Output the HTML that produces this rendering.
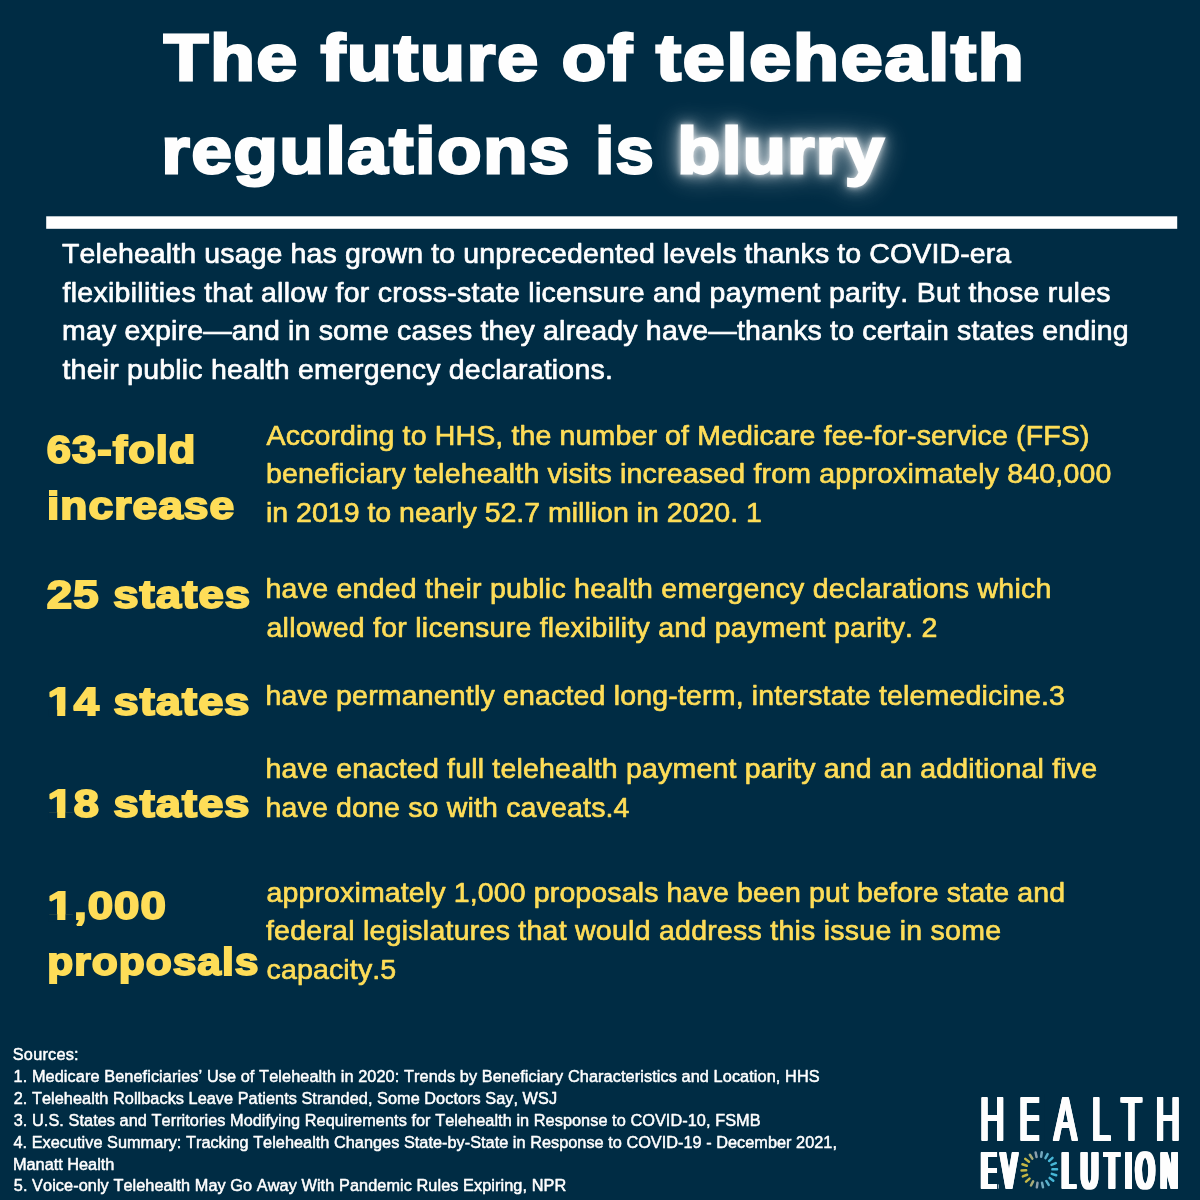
<!DOCTYPE html>
<html lang="en">
<head>
<meta charset="utf-8">
<title>The future of telehealth regulations is blurry</title>
<style>
html,body{margin:0;padding:0;background:#002c44;}
body{width:1200px;height:1200px;overflow:hidden;}
svg{display:block;}
svg text{font-family:"Liberation Sans",sans-serif;white-space:pre;font-variant-ligatures:none;font-kerning:none;}
</style>
</head>
<body>
<svg width="1200" height="1200" viewBox="0 0 1200 1200">
<defs>
<filter id="glow" x="-35%" y="-120%" width="170%" height="340%">
<feGaussianBlur in="SourceGraphic" stdDeviation="15" result="b0"/>
<feComponentTransfer in="b0" result="b0a"><feFuncA type="linear" slope="0.55"/></feComponentTransfer>
<feGaussianBlur in="SourceGraphic" stdDeviation="7" result="b1"/>
<feComponentTransfer in="b1" result="b1a"><feFuncA type="linear" slope="0.7"/></feComponentTransfer>
<feGaussianBlur in="SourceGraphic" stdDeviation="2.6" result="b2"/>
<feComponentTransfer in="b2" result="b2a"><feFuncA type="linear" slope="0.6"/></feComponentTransfer>
<feMerge><feMergeNode in="b0a"/><feMergeNode in="b1a"/><feMergeNode in="b2a"/><feMergeNode in="SourceGraphic"/></feMerge>
</filter>
</defs>
<rect width="1200" height="1200" fill="#002c44"/>
<rect id="rule" x="46.2" y="216.3" width="1131" height="12.5" fill="#ffffff"/>
<g opacity="0.999">
<text id="t1" x="163.84" y="79.80" font-size="64.90" font-weight="700" fill="#ffffff" textLength="135.04" lengthAdjust="spacingAndGlyphs" stroke="#ffffff" stroke-width="2.8" stroke-linejoin="miter" stroke-miterlimit="2" letter-spacing="1.6">The</text>
<text id="t2" x="320.84" y="79.80" font-size="64.90" font-weight="700" fill="#ffffff" textLength="218.97" lengthAdjust="spacingAndGlyphs" stroke="#ffffff" stroke-width="2.8" stroke-linejoin="miter" stroke-miterlimit="2" letter-spacing="1.6">future</text>
<text id="t3" x="561.66" y="79.80" font-size="64.90" font-weight="700" fill="#ffffff" textLength="72.18" lengthAdjust="spacingAndGlyphs" stroke="#ffffff" stroke-width="2.8" stroke-linejoin="miter" stroke-miterlimit="2" letter-spacing="1.6">of</text>
<text id="t4" x="655.90" y="79.80" font-size="64.90" font-weight="700" fill="#ffffff" textLength="369.72" lengthAdjust="spacingAndGlyphs" stroke="#ffffff" stroke-width="2.8" stroke-linejoin="miter" stroke-miterlimit="2" letter-spacing="1.6">telehealth</text>
<text id="t5" x="161.48" y="172.80" font-size="64.90" font-weight="700" fill="#ffffff" textLength="409.69" lengthAdjust="spacingAndGlyphs" stroke="#ffffff" stroke-width="2.8" stroke-linejoin="miter" stroke-miterlimit="2" letter-spacing="1.6">regulations</text>
<text id="t6" x="595.22" y="172.80" font-size="64.90" font-weight="700" fill="#ffffff" textLength="60.11" lengthAdjust="spacingAndGlyphs" stroke="#ffffff" stroke-width="2.8" stroke-linejoin="miter" stroke-miterlimit="2" letter-spacing="1.6">is</text>
<text id="t7" x="677.61" y="172.80" font-size="64.90" font-weight="700" fill="#ffffff" textLength="207.84" lengthAdjust="spacingAndGlyphs" stroke="#ffffff" stroke-width="2.8" stroke-linejoin="miter" stroke-miterlimit="2" letter-spacing="1.6" filter="url(#glow)">blurry</text>
<text id="p1" x="62.00" y="262.90" font-size="28.50" font-weight="400" fill="#ffffff" textLength="949.22" lengthAdjust="spacing" stroke="#ffffff" stroke-width="0.7" stroke-linejoin="round">Telehealth usage has grown to unprecedented levels thanks to COVID-era</text>
<text id="p2" x="62.50" y="301.65" font-size="28.50" font-weight="400" fill="#ffffff" textLength="1048.11" lengthAdjust="spacing" stroke="#ffffff" stroke-width="0.7" stroke-linejoin="round">flexibilities that allow for cross-state licensure and payment parity. But those rules</text>
<text id="p3" x="62.10" y="340.40" font-size="28.50" font-weight="400" fill="#ffffff" textLength="1066.60" lengthAdjust="spacing" stroke="#ffffff" stroke-width="0.7" stroke-linejoin="round">may expire—and in some cases they already have—thanks to certain states ending</text>
<text id="p4" x="62.50" y="379.15" font-size="28.50" font-weight="400" fill="#ffffff" textLength="550.34" lengthAdjust="spacing" stroke="#ffffff" stroke-width="0.7" stroke-linejoin="round">their public health emergency declarations.</text>
<text id="b1a" x="266.50" y="444.55" font-size="28.50" font-weight="400" fill="#ffde59" textLength="822.94" lengthAdjust="spacing" stroke="#ffde59" stroke-width="0.7" stroke-linejoin="round">According to HHS, the number of Medicare fee-for-service (FFS)</text>
<text id="b1b" x="266.00" y="483.30" font-size="28.50" font-weight="400" fill="#ffde59" textLength="845.33" lengthAdjust="spacing" stroke="#ffde59" stroke-width="0.7" stroke-linejoin="round">beneficiary telehealth visits increased from approximately 840,000</text>
<text id="b1c" x="266.00" y="522.05" font-size="28.50" font-weight="400" fill="#ffde59" textLength="495.91" lengthAdjust="spacing" stroke="#ffde59" stroke-width="0.7" stroke-linejoin="round">in 2019 to nearly 52.7 million in 2020. 1</text>
<text id="b2a" x="265.50" y="597.80" font-size="28.50" font-weight="400" fill="#ffde59" textLength="785.88" lengthAdjust="spacing" stroke="#ffde59" stroke-width="0.7" stroke-linejoin="round">have ended their public health emergency declarations which</text>
<text id="b2b" x="266.50" y="636.55" font-size="28.50" font-weight="400" fill="#ffde59" textLength="670.80" lengthAdjust="spacing" stroke="#ffde59" stroke-width="0.7" stroke-linejoin="round">allowed for licensure flexibility and payment parity. 2</text>
<text id="b3a" x="265.50" y="705.30" font-size="28.50" font-weight="400" fill="#ffde59" textLength="799.47" lengthAdjust="spacing" stroke="#ffde59" stroke-width="0.7" stroke-linejoin="round">have permanently enacted long-term, interstate telemedicine.3</text>
<text id="b4a" x="265.50" y="777.80" font-size="28.50" font-weight="400" fill="#ffde59" textLength="831.63" lengthAdjust="spacing" stroke="#ffde59" stroke-width="0.7" stroke-linejoin="round">have enacted full telehealth payment parity and an additional five</text>
<text id="b4b" x="265.50" y="816.55" font-size="28.50" font-weight="400" fill="#ffde59" textLength="363.98" lengthAdjust="spacing" stroke="#ffde59" stroke-width="0.7" stroke-linejoin="round">have done so with caveats.4</text>
<text id="b5a" x="266.50" y="901.55" font-size="28.50" font-weight="400" fill="#ffde59" textLength="798.57" lengthAdjust="spacing" stroke="#ffde59" stroke-width="0.7" stroke-linejoin="round">approximately 1,000 proposals have been put before state and</text>
<text id="b5b" x="265.90" y="940.30" font-size="28.50" font-weight="400" fill="#ffde59" textLength="735.10" lengthAdjust="spacing" stroke="#ffde59" stroke-width="0.7" stroke-linejoin="round">federal legislatures that would address this issue in some</text>
<text id="b5c" x="266.50" y="979.05" font-size="28.50" font-weight="400" fill="#ffde59" textLength="129.73" lengthAdjust="spacing" stroke="#ffde59" stroke-width="0.7" stroke-linejoin="round">capacity.5</text>
<text id="h1a" x="46.81" y="462.95" font-size="38.60" font-weight="700" fill="#ffde59" textLength="149.61" lengthAdjust="spacingAndGlyphs" stroke="#ffde59" stroke-width="1.9" stroke-linejoin="miter" stroke-miterlimit="2" letter-spacing="0.9">63-fold</text>
<text id="h1b" x="47.01" y="519.20" font-size="38.60" font-weight="700" fill="#ffde59" textLength="188.25" lengthAdjust="spacingAndGlyphs" stroke="#ffde59" stroke-width="1.9" stroke-linejoin="miter" stroke-miterlimit="2" letter-spacing="0.9">increase</text>
<text id="h2" x="46.83" y="607.95" font-size="38.60" font-weight="700" fill="#ffde59" textLength="204.32" lengthAdjust="spacingAndGlyphs" stroke="#ffde59" stroke-width="1.9" stroke-linejoin="miter" stroke-miterlimit="2" letter-spacing="0.9">25 states</text>
<text id="h3" x="47.57" y="714.95" font-size="38.60" font-weight="700" fill="#ffde59" textLength="202.98" lengthAdjust="spacingAndGlyphs" stroke="#ffde59" stroke-width="1.9" stroke-linejoin="miter" stroke-miterlimit="2" letter-spacing="0.9">14 states</text>
<text id="h4" x="47.57" y="817.20" font-size="38.60" font-weight="700" fill="#ffde59" textLength="202.98" lengthAdjust="spacingAndGlyphs" stroke="#ffde59" stroke-width="1.9" stroke-linejoin="miter" stroke-miterlimit="2" letter-spacing="0.9">18 states</text>
<text id="h5a" x="47.54" y="919.20" font-size="38.60" font-weight="700" fill="#ffde59" textLength="119.46" lengthAdjust="spacingAndGlyphs" stroke="#ffde59" stroke-width="1.9" stroke-linejoin="miter" stroke-miterlimit="2" letter-spacing="0.9">1,000</text>
<text id="h5b" x="47.27" y="975.45" font-size="38.60" font-weight="700" fill="#ffde59" textLength="212.17" lengthAdjust="spacingAndGlyphs" stroke="#ffde59" stroke-width="1.9" stroke-linejoin="miter" stroke-miterlimit="2" letter-spacing="0.9">proposals</text>
<text id="s0" x="12.75" y="1060.20" font-size="16.30" font-weight="400" fill="#ffffff" textLength="65.88" lengthAdjust="spacing" stroke="#ffffff" stroke-width="0.5" stroke-linejoin="round">Sources:</text>
<text id="s1" x="13.50" y="1082.20" font-size="16.30" font-weight="400" fill="#ffffff" textLength="806.18" lengthAdjust="spacing" stroke="#ffffff" stroke-width="0.5" stroke-linejoin="round">1. Medicare Beneficiaries’ Use of Telehealth in 2020: Trends by Beneficiary Characteristics and Location, HHS</text>
<text id="s2" x="13.75" y="1104.20" font-size="16.30" font-weight="400" fill="#ffffff" textLength="543.31" lengthAdjust="spacing" stroke="#ffffff" stroke-width="0.5" stroke-linejoin="round">2. Telehealth Rollbacks Leave Patients Stranded, Some Doctors Say, WSJ</text>
<text id="s3" x="13.75" y="1125.95" font-size="16.30" font-weight="400" fill="#ffffff" textLength="746.80" lengthAdjust="spacing" stroke="#ffffff" stroke-width="0.5" stroke-linejoin="round">3. U.S. States and Territories Modifying Requirements for Telehealth in Response to COVID-10, FSMB</text>
<text id="s4" x="13.50" y="1147.70" font-size="16.30" font-weight="400" fill="#ffffff" textLength="823.44" lengthAdjust="spacing" stroke="#ffffff" stroke-width="0.5" stroke-linejoin="round">4. Executive Summary: Tracking Telehealth Changes State-by-State in Response to COVID-19 - December 2021,</text>
<text id="s5" x="13.00" y="1169.70" font-size="16.30" font-weight="400" fill="#ffffff" textLength="101.34" lengthAdjust="spacing" stroke="#ffffff" stroke-width="0.5" stroke-linejoin="round">Manatt Health</text>
<text id="s6" x="13.75" y="1191.45" font-size="16.30" font-weight="400" fill="#ffffff" textLength="552.48" lengthAdjust="spacing" stroke="#ffffff" stroke-width="0.5" stroke-linejoin="round">5. Voice-only Telehealth May Go Away With Pandemic Rules Expiring, NPR</text>
<g id="lg1" transform="scale(0.5300,1)"><text x="1849.75 1923.32 1988.96 2060.16 2115.47 2180.70" y="1140.20" font-size="63.08" font-weight="400" fill="#ffffff">HEALTH</text></g><use href="#lg1" x="-1.50" y="-0.40"/><use href="#lg1" x="-1.50" y="0.40"/><use href="#lg1" x="0.00" y="-0.40"/><use href="#lg1" x="0.00" y="0.40"/><use href="#lg1" x="1.50" y="-0.40"/><use href="#lg1" x="1.50" y="0.40"/>
<g id="lg2" transform="scale(0.4400,1)"><text x="2230.85 2275.94" y="1188.45" font-size="52.03" font-weight="400" fill="#ffffff">EV</text></g><use href="#lg2" x="-2.45" y="-0.45"/><use href="#lg2" x="-2.45" y="0.45"/><use href="#lg2" x="-1.23" y="-0.45"/><use href="#lg2" x="-1.23" y="0.45"/><use href="#lg2" x="0.00" y="-0.45"/><use href="#lg2" x="0.00" y="0.45"/><use href="#lg2" x="1.23" y="-0.45"/><use href="#lg2" x="1.23" y="0.45"/><use href="#lg2" x="2.45" y="-0.45"/><use href="#lg2" x="2.45" y="0.45"/>
<g id="lg3" transform="scale(0.4400,1)"><text x="2414.26 2457.57 2511.05 2557.66 2582.28 2638.47" y="1188.45" font-size="52.03" font-weight="400" fill="#ffffff">LUTION</text></g><use href="#lg3" x="-2.45" y="-0.45"/><use href="#lg3" x="-2.45" y="0.45"/><use href="#lg3" x="-1.23" y="-0.45"/><use href="#lg3" x="-1.23" y="0.45"/><use href="#lg3" x="0.00" y="-0.45"/><use href="#lg3" x="0.00" y="0.45"/><use href="#lg3" x="1.23" y="-0.45"/><use href="#lg3" x="1.23" y="0.45"/><use href="#lg3" x="2.45" y="-0.45"/><use href="#lg3" x="2.45" y="0.45"/>
<g id="ring"><line x1="1052.44" y1="1169.34" x2="1057.04" y2="1169.18" stroke="rgb(72,184,216)" stroke-width="2.5" stroke-linecap="round"/><line x1="1051.81" y1="1173.86" x2="1056.18" y2="1175.29" stroke="rgb(72,184,216)" stroke-width="2.5" stroke-linecap="round"/><line x1="1049.66" y1="1177.90" x2="1053.29" y2="1180.73" stroke="rgb(72,184,216)" stroke-width="2.5" stroke-linecap="round"/><line x1="1046.27" y1="1180.95" x2="1048.71" y2="1184.85" stroke="rgb(89,178,206)" stroke-width="2.5" stroke-linecap="round"/><line x1="1042.03" y1="1182.66" x2="1042.99" y2="1187.16" stroke="rgb(113,170,191)" stroke-width="2.5" stroke-linecap="round"/><line x1="1037.47" y1="1182.82" x2="1036.83" y2="1187.38" stroke="rgb(140,160,174)" stroke-width="2.5" stroke-linecap="round"/><line x1="1033.13" y1="1181.41" x2="1030.97" y2="1185.47" stroke="rgb(169,172,122)" stroke-width="2.5" stroke-linecap="round"/><line x1="1029.53" y1="1178.60" x2="1026.11" y2="1181.68" stroke="rgb(198,184,70)" stroke-width="2.5" stroke-linecap="round"/><line x1="1027.11" y1="1174.73" x2="1022.84" y2="1176.45" stroke="rgb(198,184,70)" stroke-width="2.5" stroke-linecap="round"/><line x1="1026.16" y1="1170.26" x2="1021.56" y2="1170.42" stroke="rgb(198,184,70)" stroke-width="2.5" stroke-linecap="round"/><line x1="1026.79" y1="1165.74" x2="1022.42" y2="1164.31" stroke="rgb(198,184,70)" stroke-width="2.5" stroke-linecap="round"/><line x1="1028.94" y1="1161.70" x2="1025.31" y2="1158.87" stroke="rgb(198,184,70)" stroke-width="2.5" stroke-linecap="round"/><line x1="1032.33" y1="1158.65" x2="1029.89" y2="1154.75" stroke="rgb(169,172,122)" stroke-width="2.5" stroke-linecap="round"/><line x1="1036.57" y1="1156.94" x2="1035.61" y2="1152.44" stroke="rgb(140,160,174)" stroke-width="2.5" stroke-linecap="round"/><line x1="1041.13" y1="1156.78" x2="1041.77" y2="1152.22" stroke="rgb(116,168,189)" stroke-width="2.5" stroke-linecap="round"/><line x1="1045.47" y1="1158.19" x2="1047.63" y2="1154.13" stroke="rgb(92,177,203)" stroke-width="2.5" stroke-linecap="round"/><line x1="1049.07" y1="1161.00" x2="1052.49" y2="1157.92" stroke="rgb(72,184,216)" stroke-width="2.5" stroke-linecap="round"/><line x1="1051.49" y1="1164.87" x2="1055.76" y2="1163.15" stroke="rgb(72,184,216)" stroke-width="2.5" stroke-linecap="round"/></g>
</g>
<rect x="48.47" y="709.86" width="8.70" height="7.04" fill="#002c44"/>
<rect x="65.27" y="709.86" width="8.13" height="7.04" fill="#002c44"/>
<rect x="48.47" y="812.11" width="8.70" height="7.04" fill="#002c44"/>
<rect x="65.27" y="812.11" width="8.13" height="7.04" fill="#002c44"/>
<rect x="48.47" y="914.11" width="8.77" height="7.04" fill="#002c44"/>
<rect x="65.40" y="914.11" width="8.19" height="7.04" fill="#002c44"/>
<rect x="1039.3" y="1094" width="5" height="49" fill="#002c44"/>
<rect x="997.0" y="1150" width="0.9" height="41" fill="#002c44"/>
</svg>
</body>
</html>
